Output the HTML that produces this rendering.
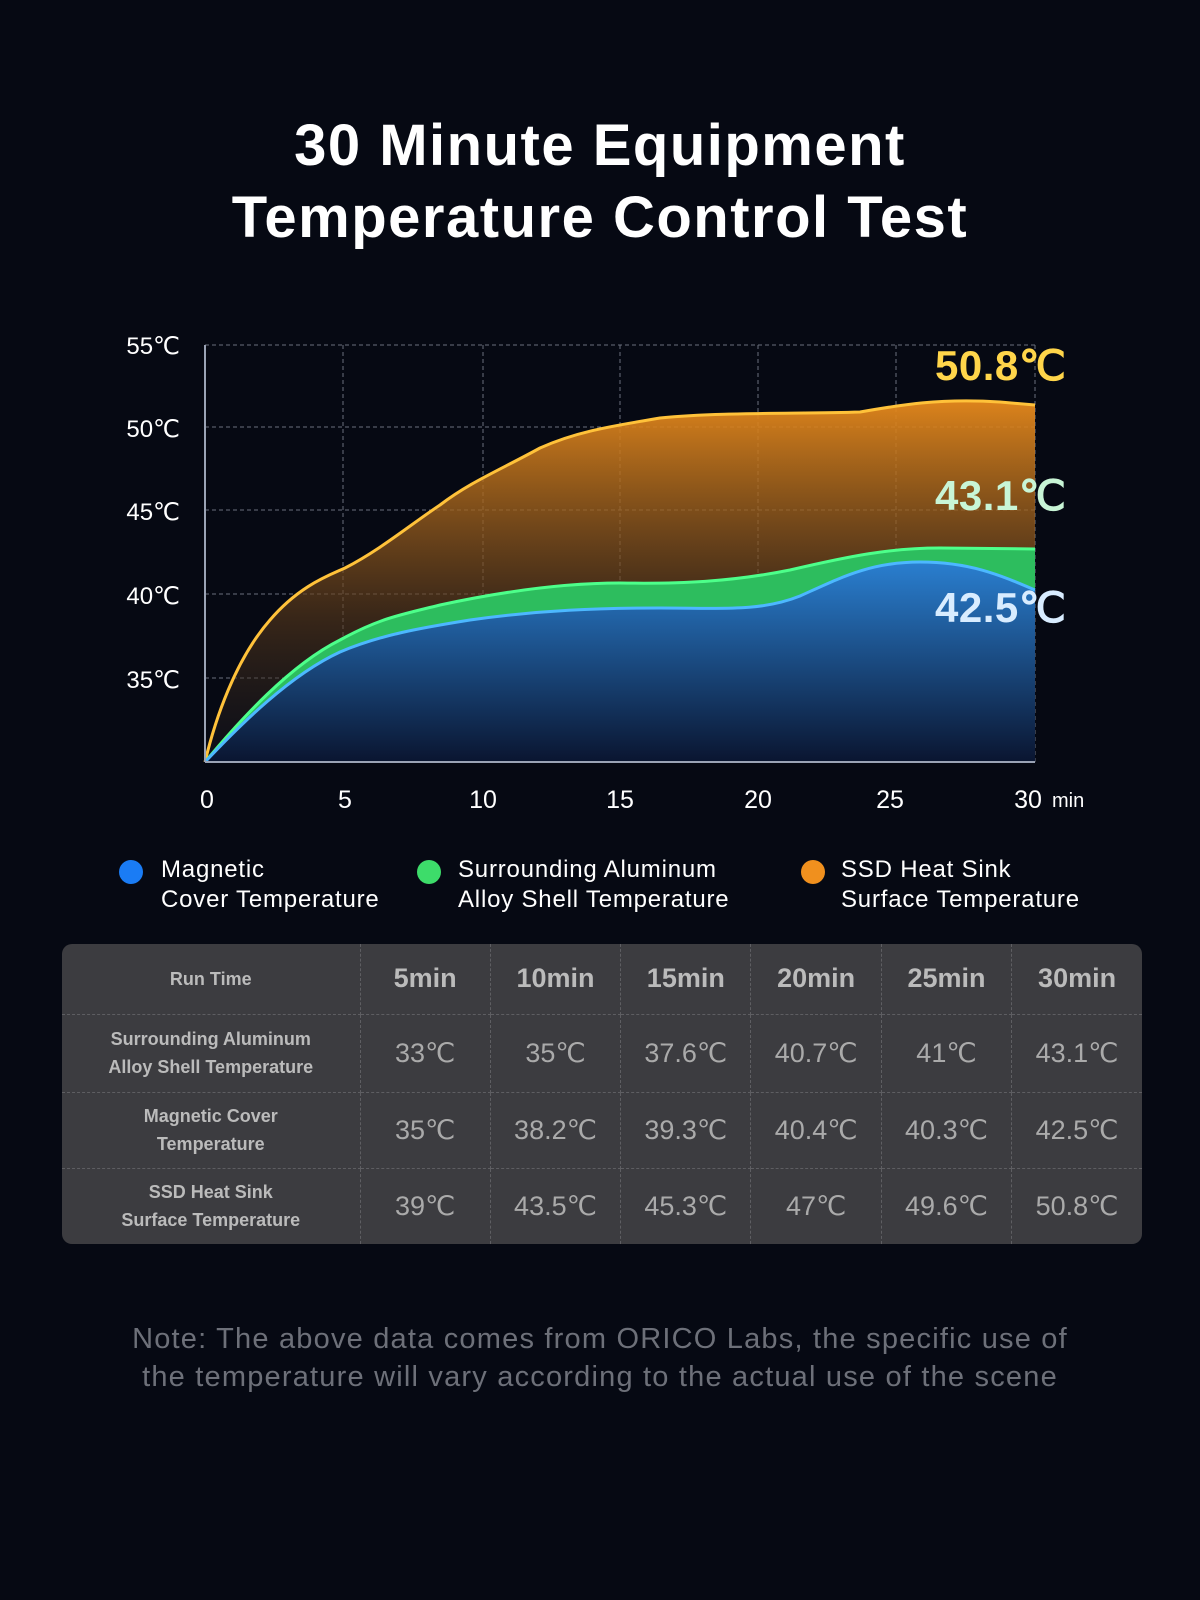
<!DOCTYPE html>
<html><head><meta charset="utf-8"><style>
body{margin:0;width:1200px;height:1600px;background:#060913;font-family:"Liberation Sans",sans-serif;color:#fff;position:relative;overflow:hidden}
.t{position:absolute;left:0;width:1200px;text-align:center;font-weight:bold;font-size:58px;line-height:72px;top:110px;letter-spacing:1.5px}
.leg{position:absolute;font-size:24px;line-height:30px;color:#fff;letter-spacing:0.8px}
.dot{position:absolute;width:24px;height:24px;border-radius:50%}
table{position:absolute;left:62px;top:944px;width:1080px;height:300px;border-collapse:collapse;background:#3c3c40;border-radius:10px;color:#aaa;table-layout:fixed}
td{border:1px dashed #5e5e62;text-align:center;font-size:27px}
td.h{font-size:18px;font-weight:bold;color:#bbb;line-height:28px}
tr:first-child td{border-top:none;font-weight:bold;color:#bbb}
td:first-child{border-left:none}td:last-child{border-right:none}tr:last-child td{border-bottom:none}
.note{position:absolute;top:1320px;left:0;width:1200px;text-align:center;font-size:29px;line-height:38px;color:#6d7079;letter-spacing:1.2px}
</style></head><body>
<div class="t">30 Minute Equipment<br>Temperature Control Test</div>
<svg width="1200" height="840" style="position:absolute;left:0;top:0">
<defs>
<linearGradient id="go" x1="0" y1="0" x2="0" y2="1"><stop offset="0" stop-color="#e88a1c" stop-opacity=".95"/><stop offset="0.6" stop-color="#5a3a1c" stop-opacity=".6"/><stop offset="1" stop-color="#1a1a22" stop-opacity=".3"/></linearGradient>
<linearGradient id="gb" x1="0" y1="0" x2="0" y2="1"><stop offset="0" stop-color="#2a7fd0"/><stop offset="1" stop-color="#0a1530"/></linearGradient>
</defs>
<g stroke="#6a6f7c" stroke-dasharray="4 3" stroke-width="1">
<line x1="205" y1="345" x2="1035" y2="345"/><line x1="205" y1="427" x2="1035" y2="427"/><line x1="205" y1="510" x2="1035" y2="510"/><line x1="205" y1="594" x2="1035" y2="594"/><line x1="205" y1="678" x2="1035" y2="678"/>
<line x1="343" y1="345" x2="343" y2="762"/><line x1="483" y1="345" x2="483" y2="762"/><line x1="620" y1="345" x2="620" y2="762"/><line x1="758" y1="345" x2="758" y2="762"/><line x1="896" y1="345" x2="896" y2="762"/><line x1="1035" y1="345" x2="1035" y2="762"/>
</g>
<path d="M205,762 C215,720 235,660 270,620 C300,585 330,575 345,568 C380,550 410,525 440,505 C470,482 500,470 540,448 C580,430 620,425 660,418 C720,412 800,414 860,412 C900,405 940,398 1000,402 L1035,405 L1035,762Z" fill="url(#go)"/>
<path d="M205,762 C215,720 235,660 270,620 C300,585 330,575 345,568 C380,550 410,525 440,505 C470,482 500,470 540,448 C580,430 620,425 660,418 C720,412 800,414 860,412 C900,405 940,398 1000,402 L1035,405" fill="none" stroke="#ffc23a" stroke-width="3"/>
<path d="M205,762 C240,720 290,665 340,640 C380,618 400,615 440,605 C500,592 560,583 620,583 C680,584 730,582 790,570 C850,556 890,548 940,548 L1035,549 L1035,762Z" fill="#2dbd5e"/>
<path d="M205,762 C240,720 290,665 340,640 C380,618 400,615 440,605 C500,592 560,583 620,583 C680,584 730,582 790,570 C850,556 890,548 940,548 L1035,549" fill="none" stroke="#4dff8a" stroke-width="3"/>
<path d="M205,762 C240,725 290,675 340,652 C380,635 420,628 470,620 C540,610 600,608 660,608 C720,608 760,612 800,596 C840,578 870,562 920,562 C970,562 1000,575 1035,590 L1035,762Z" fill="url(#gb)"/>
<path d="M205,762 C240,725 290,675 340,652 C380,635 420,628 470,620 C540,610 600,608 660,608 C720,608 760,612 800,596 C840,578 870,562 920,562 C970,562 1000,575 1035,590" fill="none" stroke="#4cb8ff" stroke-width="3"/>
<line x1="205" y1="345" x2="205" y2="762" stroke="#9aa3b5" stroke-width="2"/>
<line x1="205" y1="762" x2="1035" y2="762" stroke="#9aa3b5" stroke-width="2"/>
<g fill="#fff" font-family="Liberation Sans" font-size="24" text-anchor="end">
<text x="180" y="354">55℃</text><text x="180" y="437">50℃</text><text x="180" y="520">45℃</text><text x="180" y="604">40℃</text><text x="180" y="688">35℃</text></g>
<g fill="#fff" font-family="Liberation Sans" font-size="25" text-anchor="middle">
<text x="207" y="808">0</text><text x="345" y="808">5</text><text x="483" y="808">10</text><text x="620" y="808">15</text><text x="758" y="808">20</text><text x="890" y="808">25</text><text x="1028" y="808">30</text></g>
<text x="1052" y="807" fill="#fff" font-size="20" font-family="Liberation Sans">min</text>
<g font-family="Liberation Sans" font-weight="bold" font-size="42" letter-spacing="0.5">
<text x="935" y="380" fill="#ffd54a">50.8℃</text>
<text x="935" y="510" fill="#c8f5d6">43.1℃</text>
<text x="935" y="622" fill="#d8ecff">42.5℃</text></g>
</svg>
<div class="dot" style="left:119px;top:860px;background:#1a7cf5"></div>
<div class="leg" style="left:161px;top:855px">Magnetic<br>Cover Temperature</div>
<div class="dot" style="left:417px;top:860px;background:#3ddc6a"></div>
<div class="leg" style="left:458px;top:855px">Surrounding Aluminum<br>Alloy Shell Temperature</div>
<div class="dot" style="left:801px;top:860px;background:#f0901e"></div>
<div class="leg" style="left:841px;top:855px">SSD Heat Sink<br>Surface Temperature</div>
<table>
<colgroup><col style="width:298px"><col><col><col><col><col><col></colgroup>
<tr style="height:70px"><td class="h">Run Time</td><td>5min</td><td>10min</td><td>15min</td><td>20min</td><td>25min</td><td>30min</td></tr>
<tr style="height:78px"><td class="h">Surrounding Aluminum<br>Alloy Shell Temperature</td><td>33℃</td><td>35℃</td><td>37.6℃</td><td>40.7℃</td><td>41℃</td><td>43.1℃</td></tr>
<tr style="height:76px"><td class="h">Magnetic Cover<br>Temperature</td><td>35℃</td><td>38.2℃</td><td>39.3℃</td><td>40.4℃</td><td>40.3℃</td><td>42.5℃</td></tr>
<tr style="height:76px"><td class="h">SSD Heat Sink<br>Surface Temperature</td><td>39℃</td><td>43.5℃</td><td>45.3℃</td><td>47℃</td><td>49.6℃</td><td>50.8℃</td></tr>
</table>
<div class="note">Note: The above data comes from ORICO Labs, the specific use of<br>the temperature will vary according to the actual use of the scene</div>
</body></html>
